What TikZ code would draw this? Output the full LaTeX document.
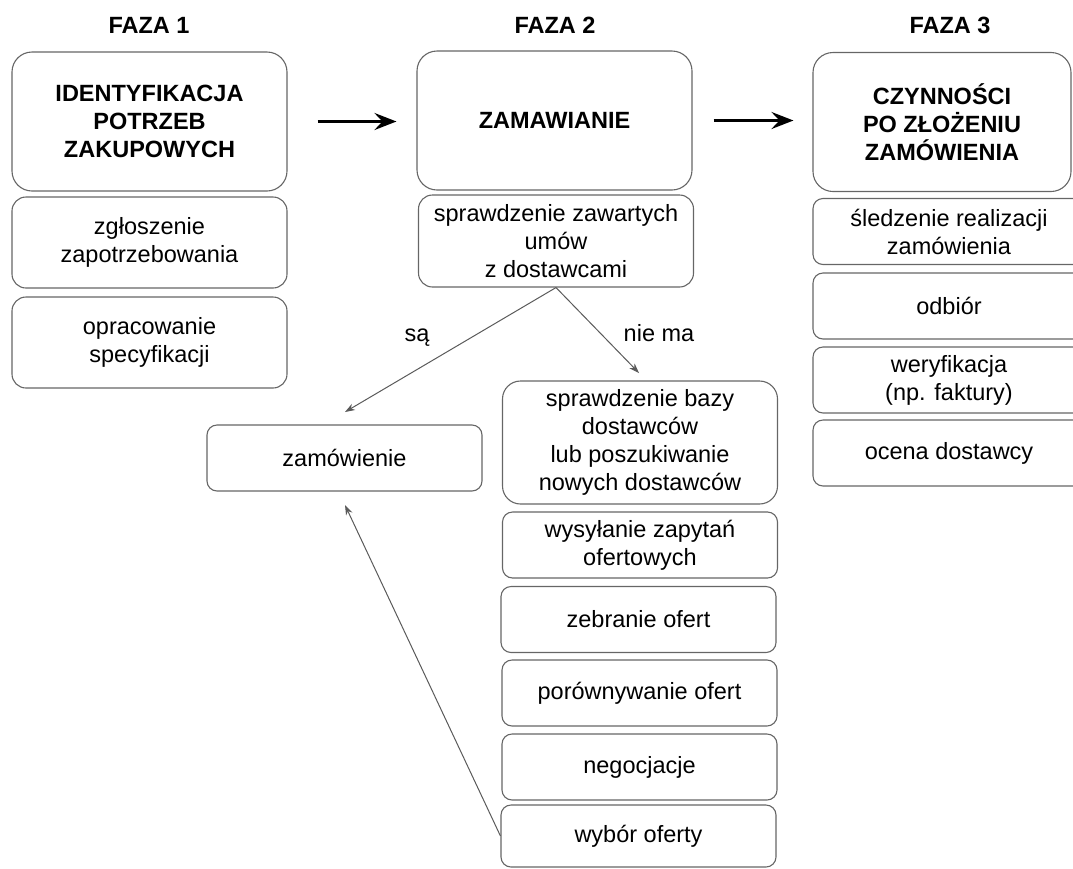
\documentclass[tikz,border=0pt]{standalone}
\usepackage{fontspec}
\setmainfont{Liberation Sans}
\usetikzlibrary{arrows.meta,calc}
\definecolor{boxline}{HTML}{666666}
\definecolor{linkline}{HTML}{5A5A5A}
\newcommand\labelsize{\fontsize{23.5}{28}\selectfont}

\begin{document}
\begin{tikzpicture}[x=1pt,y=-1pt,
  box/.style={draw=boxline, line width=1.1pt, inner sep=0pt, align=center,
              font=\labelsize, text=black},
  mainbox/.style={box, rounded corners=20pt, minimum height=139pt,
                  font=\labelsize\bfseries},
  stepbox/.style={box, rounded corners=14pt, minimum width=275pt, minimum height=91pt},
  smallbox/.style={box, rounded corners=10pt, minimum width=275pt, minimum height=66pt},
  sidebox/.style={box, rounded corners=10pt, minimum width=272pt, minimum height=66pt},
  phase/.style={font=\labelsize\bfseries, anchor=base, inner sep=0pt},
  tag/.style={font=\labelsize, anchor=base, inner sep=0pt},
  phasearrow/.style={line width=3pt, -{Stealth[length=22pt,width=17pt,inset=8pt]}},
  link/.style={draw=linkline, line width=1pt, -{Stealth[length=10pt,width=7pt]}}]

\useasboundingbox (0,0) rectangle (1073,868);
\clip (0,0) rectangle (1073,868);

% Phase 1: identifying purchasing needs
\node[phase] (f1) at (149,33) {FAZA 1};
\node[mainbox, minimum width=275pt] (ident) at (149.5,121.5)
  {IDENTYFIKACJA\\POTRZEB\\ZAKUPOWYCH};
\node[stepbox] (zgl) at (149.5,242.5) {zgłoszenie\\zapotrzebowania};
\node[stepbox] (opr) at (149.5,342.5) {opracowanie\\specyfikacji};

% Phase 2: ordering
\node[phase] (f2) at (555,33) {FAZA 2};
\node[mainbox, minimum width=275pt] (zam) at (554.5,120.5) {ZAMAWIANIE};
\node[stepbox, minimum height=92pt] (umowy) at (556,241)
  {sprawdzenie zawartych\\umów\\z dostawcami};
\node[smallbox] (zamow) at (344.5,458) {zamówienie};
\node[box, rounded corners=18pt, minimum width=275pt, minimum height=123pt] (baza)
  at (640,442.5) {sprawdzenie bazy\\dostawców\\lub poszukiwanie\\nowych dostawców};
\node[smallbox] (wys) at (640,545) {wysyłanie zapytań\\ofertowych};
\node[smallbox] (zeb) at (638.5,619.5) {zebranie ofert};
\node[smallbox] (por) at (639.5,693) {porównywanie ofert};
\node[smallbox] (neg) at (639.5,767) {negocjacje};
\node[smallbox, minimum height=62pt] (wyb) at (638.5,836) {wybór oferty};

% Phase 3: after placing the order
\node[phase] (f3) at (950,33) {FAZA 3};
\node[mainbox, minimum width=258pt] (czyn) at (942,122)
  {CZYNNOŚCI\\PO ZŁOŻENIU\\ZAMÓWIENIA};
\node[sidebox] (sled) at (949,231.5) {śledzenie realizacji\\zamówienia};
\node[sidebox] (odb) at (949,306) {odbiór};
\node[sidebox] (wer) at (949,380) {weryfikacja\\(np. faktury)};
\node[sidebox] (oce) at (949,453) {ocena dostawcy};

% Arrows between phases
\draw[phasearrow, shorten <=30pt, shorten >=20pt] (ident.east) -- (ident.east -| zam.west);
\draw[phasearrow, shorten <=21pt, shorten >=19pt] (zam.east) -- (zam.east -| czyn.west);

% Decision after checking contracts
\coordinate (saEnd) at (345,412);
\coordinate (niemaEnd) at (639,373);
\coordinate (wybEnd) at (345,505);
\draw[link] (umowy.south) -- (saEnd);
\draw[link] (umowy.south) -- (niemaEnd);
\draw[link] (wyb.west) -- (wybEnd);
\node[tag] (sa) at (417,341) {są};
\node[tag] (niema) at (659,341) {nie ma};
\end{tikzpicture}
\end{document}
